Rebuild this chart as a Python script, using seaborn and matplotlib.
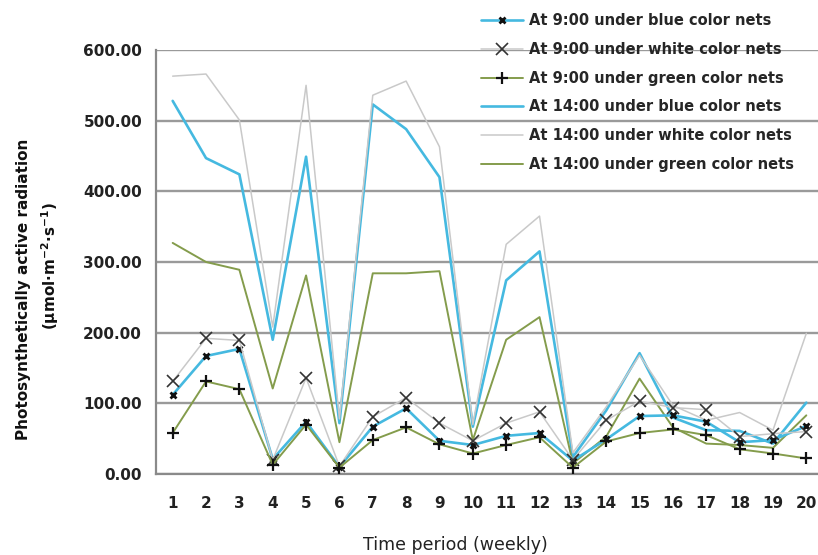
import matplotlib
matplotlib.use("Agg")
import matplotlib.pyplot as plt
import seaborn as sns
import numpy as np

weeks = list(range(1, 21))
week_labels = [str(w) for w in weeks]
y_ticks = [0, 100, 200, 300, 400, 500, 600]

blue_9 = [112, 167, 177, 21, 74, 10, 67, 93, 47, 41, 54, 58, 19, 49, 82, 83, 74, 45, 48, 68]
white_9 = [131, 192, 189, 20, 136, 11, 81, 108, 72, 47, 72, 88, 20, 76, 103, 94, 91, 53, 57, 60]
green_9 = [58, 131, 120, 13, 70, 9, 48, 66, 42, 29, 41, 52, 9, 46, 58, 63, 55, 35, 29, 22]
blue_14 = [528, 447, 424, 190, 449, 72, 523, 488, 420, 67, 274, 315, 24, 90, 171, 80, 62, 61, 43, 101]
white_14 = [563, 566, 501, 208, 550, 78, 536, 556, 463, 70, 325, 365, 30, 95, 168, 97, 76, 87, 62, 199]
green_14 = [327, 300, 289, 121, 281, 45, 284, 284, 287, 48, 190, 222, 15, 53, 135, 66, 43, 41, 37, 83]

labels = [
    "At 9:00 under blue color nets",
    "At 9:00 under white color nets",
    "At 9:00 under green color nets",
    "At 14:00 under blue color nets",
    "At 14:00 under white color nets",
    "At 14:00 under green color nets",
]

sns.set_theme(style="white")
plt.rcParams["font.family"] = ["DejaVu Sans"]
plt.rcParams["mathtext.default"] = "bf"

BLUE = "#45B9E0"
GREY = "#C9C9C9"
GREEN = "#849C4C"

fig = plt.figure(figsize=(8.18, 5.55), dpi=100)
ax = fig.add_axes([156 / 818, 1 - 474 / 555, 667 / 818, 424 / 555])

# grid
for v in y_ticks:
    ax.axhline(v, color="#9A9A9A", lw=1.7, zorder=0)

sns.lineplot(x=weeks, y=blue_9, ax=ax, color=BLUE, lw=1.9, marker="x",
             markersize=5, markeredgewidth=2.0, markeredgecolor="#111111",
             label=labels[0], zorder=3)
sns.lineplot(x=weeks, y=white_9, ax=ax, color=GREY, lw=1.1, marker="x",
             markersize=8.5, markeredgewidth=1.2, markeredgecolor="#333333",
             label=labels[1], zorder=3)
sns.lineplot(x=weeks, y=green_9, ax=ax, color=GREEN, lw=1.4, marker="+",
             markersize=9, markeredgewidth=1.6, markeredgecolor="#111111",
             label=labels[2], zorder=3)
sns.lineplot(x=weeks, y=blue_14, ax=ax, color=BLUE, lw=1.9, label=labels[3], zorder=2)
sns.lineplot(x=weeks, y=white_14, ax=ax, color=GREY, lw=1.1, label=labels[4], zorder=2)
sns.lineplot(x=weeks, y=green_14, ax=ax, color=GREEN, lw=1.4, label=labels[5], zorder=2)

ax.set_xlim(0.5, 20.5)
ax.set_ylim(0, 600)
ax.set_yticks(y_ticks)
ax.set_yticklabels([f"{v:.2f}" for v in y_ticks], fontsize=11, fontweight="bold", color="#222222")
ax.set_xticks(weeks)
ax.set_xticklabels(week_labels, fontsize=11, fontweight="bold", color="#222222")
ax.set_xticks(np.arange(0.5, 20.6, 1.0), minor=True)
ax.tick_params(axis="x", which="major", length=0, pad=16)
ax.tick_params(axis="x", which="minor", length=5, width=1.2, color="#888888", direction="out")
ax.tick_params(axis="y", length=4, width=1.2, color="#888888", direction="out", pad=6)
ax.set_xlabel("")
ax.set_ylabel("")

for s in ["top", "right"]:
    ax.spines[s].set_visible(False)
for s in ["left", "bottom"]:
    ax.spines[s].set_color("#8A8A8A")
    ax.spines[s].set_linewidth(1.6)

ax.get_legend().remove()
handles, labs = ax.get_legend_handles_labels()
fig.legend(handles, labs, loc="upper left", bbox_to_anchor=(478 / 818, 1 - 10 / 555),
           frameon=False, prop={"size": 10.5, "weight": "bold"}, handlelength=2.9,
           handletextpad=0.4, labelspacing=0.95, borderpad=0.2, borderaxespad=0)

fig.text(455 / 818, 1 - 545 / 555, "Time period (weekly)", ha="center", va="center",
         fontsize=12.5, color="#222222")
fig.text(24 / 818, 1 - 289 / 555, "Photosynthetically active radiation", rotation=90,
         ha="center", va="center", fontsize=11, fontweight="bold", color="#111111")
fig.text(50 / 818, 1 - 266 / 555, r"(μmol·m$^{-2}$·s$^{-1}$)", rotation=90,
         ha="center", va="center", fontsize=11, fontweight="bold", color="#111111")

fig.savefig("out.png", dpi=100)
